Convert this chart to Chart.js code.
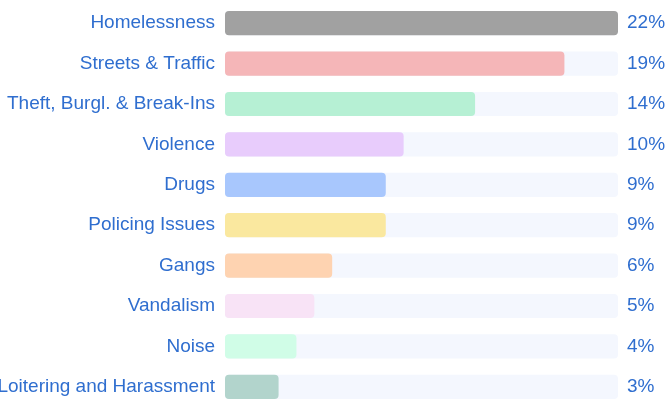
<!DOCTYPE html>
<html>
<head>
<meta charset="utf-8">
<script src="https://cdn.jsdelivr.net/npm/chart.js@4"></script>
<style>
html,body{margin:0;padding:0;background:#fff;}
#wrap{position:relative;width:670px;height:407px;}
</style>
</head>
<body>
<div id="wrap"><canvas id="c" width="670" height="407"></canvas></div>
<script>
const categories = ["Homelessness","Streets & Traffic","Theft, Burgl. & Break-Ins","Violence","Drugs","Policing Issues","Gangs","Vandalism","Noise","Loitering and Harassment"];
const values = [22,19,14,10,9,9,6,5,4,3];
const percentLabels = ["22%","19%","14%","10%","9%","9%","6%","5%","4%","3%"];
const barColors = ["#a1a1a1","#f5b6b8","#b6f0d4","#e8ccfc","#a8c7fd","#fae89f","#fed3b1","#f8e3f6","#d0fde7","#b2d4cc"];
const trackColor = "#f4f7fe";
const textColor = "#2f6ecf";

const maxVal = Math.max(...values);
const track = values.map(() => maxVal);
const labelFont = {family: "'Liberation Sans', Arial, sans-serif", size: 19};

new Chart(document.getElementById('c'), {
  type: 'bar',
  data: {
    labels: categories,
    datasets: [
      {data: values, backgroundColor: barColors, borderRadius: 4, borderSkipped: false, order: 1, grouped: false, categoryPercentage: 1, barPercentage: 0.6, yAxisID: 'y'},
      {data: track, backgroundColor: trackColor, borderRadius: 4, borderSkipped: false, order: 2, grouped: false, categoryPercentage: 1, barPercentage: 0.6, yAxisID: 'y'}
    ]
  },
  options: {
    indexAxis: 'y',
    responsive: false,
    animation: false,
    layout: {padding: {top: 3, bottom: 0, left: 0, right: 0}},
    plugins: {legend: {display: false}, tooltip: {enabled: false}},
    scales: {
      x: {display: false, min: 0, max: maxVal},
      y: {
        position: 'left',
        grid: {display: false, drawTicks: false},
        border: {display: false},
        ticks: {color: textColor, font: labelFont, padding: 10},
        afterFit: (s) => { s.width = 225; s.paddingTop = 0; s.paddingBottom = 0; }
      },
      y2: {
        position: 'right',
        type: 'category',
        labels: percentLabels,
        offset: true,
        grid: {display: false, drawTicks: false},
        border: {display: false},
        ticks: {color: textColor, font: labelFont, padding: 9},
        afterFit: (s) => { s.width = 52; s.paddingTop = 0; s.paddingBottom = 0; }
      }
    }
  }
});
</script>
</body>
</html>
